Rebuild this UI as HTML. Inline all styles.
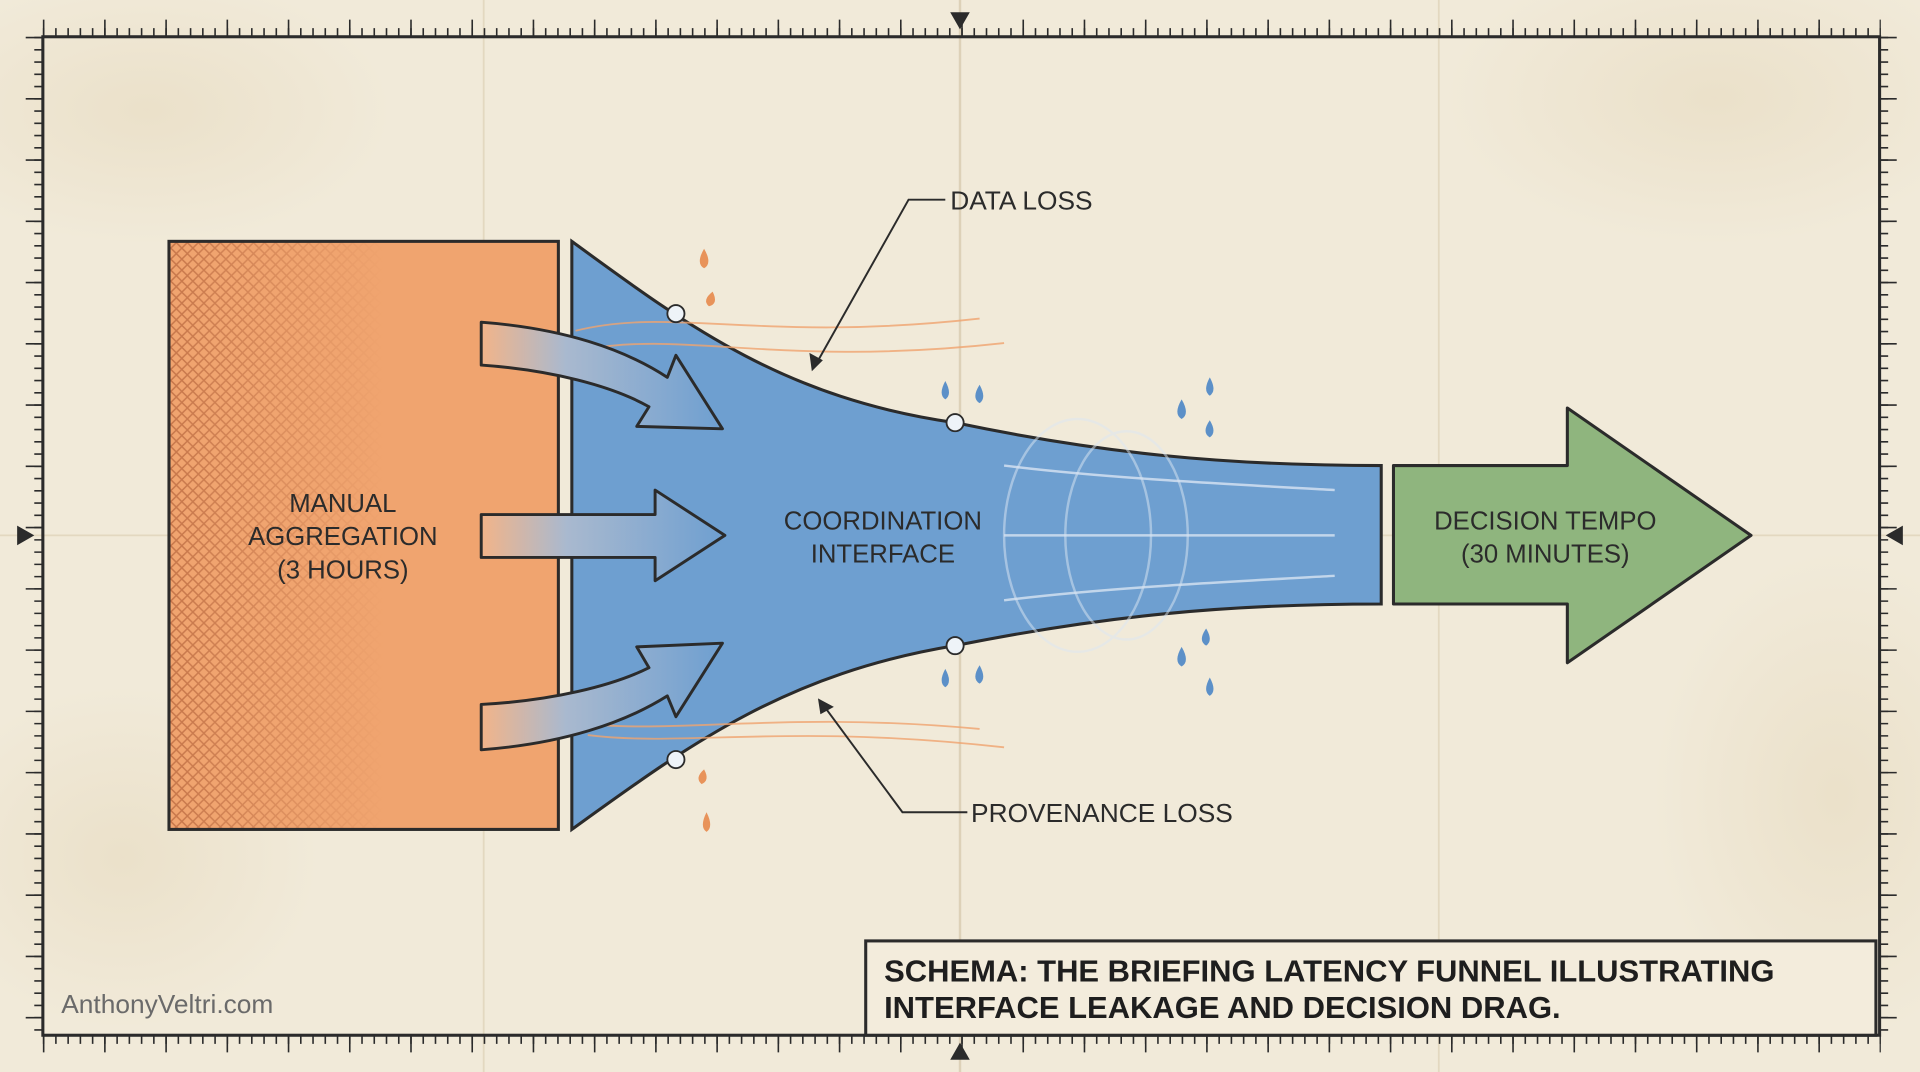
<!DOCTYPE html>
<html><head><meta charset="utf-8"><style>
html,body{margin:0;padding:0;width:1920px;height:1072px;overflow:hidden;background:#f1ead9}
svg{display:block}
text{font-family:"Liberation Sans",sans-serif}
</style></head><body>
<svg width="1920" height="1072" viewBox="0 0 1568 875" preserveAspectRatio="none" xmlns="http://www.w3.org/2000/svg">
<defs>
<pattern id="hatch" width="9" height="9" patternUnits="userSpaceOnUse">
<path d="M0 0L9 9M9 0L0 9" stroke="#b4623a" stroke-width="1.2" opacity="0.7"/>
</pattern>
<linearGradient id="hfade" x1="0" x2="1">
<stop offset="0" stop-color="#fff" stop-opacity="1"/><stop offset="0.55" stop-color="#fff" stop-opacity="0"/>
</linearGradient>
<linearGradient id="ag" x1="0" x2="1">
<stop offset="0" stop-color="#f2b489"/><stop offset="0.35" stop-color="#a9b9cf"/><stop offset="1" stop-color="#6e9fd0"/>
</linearGradient>
<mask id="hm"><rect x="138" y="197" width="318" height="480" fill="url(#hfade)"/></mask>
<radialGradient id="st" cx="0.5" cy="0.5" r="0.5"><stop offset="0" stop-color="#dfcfad" stop-opacity="0.35"/><stop offset="1" stop-color="#dfcfad" stop-opacity="0"/></radialGradient>
</defs>
<rect width="1568" height="875" fill="#f1ead9"/>
<ellipse cx="120" cy="90" rx="200" ry="110" fill="url(#st)"/>
<ellipse cx="1400" cy="80" rx="220" ry="120" fill="url(#st)"/>
<ellipse cx="100" cy="700" rx="160" ry="140" fill="url(#st)"/>
<ellipse cx="1500" cy="650" rx="150" ry="200" fill="url(#st)"/>
<line x1="784" y1="0" x2="784" y2="875" stroke="#ddd1b8" stroke-width="2"/>
<line x1="395" y1="0" x2="395" y2="875" stroke="#e3d8c0" stroke-width="1.5"/>
<line x1="1175" y1="0" x2="1175" y2="875" stroke="#e3d8c0" stroke-width="1.5"/>
<line x1="0" y1="437" x2="1568" y2="437" stroke="#e3d8c0" stroke-width="1.5"/>
<!-- frame -->
<rect x="35" y="30" width="1500" height="815" fill="none" stroke="#2b2b2b" stroke-width="2.5"/>
<g stroke="#2b2b2b" stroke-width="7" fill="none">
<line x1="35" y1="26.5" x2="1536" y2="26.5" stroke-dasharray="1.3 8.7"/>
<line x1="35" y1="848.5" x2="1536" y2="848.5" stroke-dasharray="1.3 8.7"/>
<line x1="31.5" y1="30" x2="31.5" y2="846" stroke-dasharray="1.3 8.7"/>
<line x1="1538.5" y1="30" x2="1538.5" y2="846" stroke-dasharray="1.3 8.7"/>
</g>
<g stroke="#2b2b2b" stroke-width="14" fill="none">
<line x1="35" y1="23" x2="1536" y2="23" stroke-dasharray="1.3 48.7"/>
<line x1="35" y1="852" x2="1536" y2="852" stroke-dasharray="1.3 48.7"/>
<line x1="28" y1="30" x2="28" y2="846" stroke-dasharray="1.3 48.7"/>
<line x1="1542" y1="30" x2="1542" y2="846" stroke-dasharray="1.3 48.7"/>
</g>
<path d="M776 10H792L784 24Z M776 865H792L784 851Z M14 429V445L28 437Z M1554 429V445L1540 437Z" fill="#2b2b2b"/>
<!-- orange box -->
<rect x="138" y="197" width="318" height="480" fill="#f0a46f"/>
<rect x="138" y="197" width="318" height="480" fill="url(#hatch)" mask="url(#hm)"/>
<rect x="138" y="197" width="318" height="480" fill="none" stroke="#2b2b2b" stroke-width="2.5"/>
<!-- funnel -->
<path d="M467 197 C560 265 640 325 780 345 C900 370 1000 380 1128 380 L1128 493 C1000 493 900 503 780 527 C640 550 560 610 467 677 Z" fill="#6e9fd0" stroke="#2b2b2b" stroke-width="2.5"/>
<g fill="none" stroke="#f0a46f" stroke-width="1.5" opacity="0.8">
<path d="M470 270 C550 250 620 280 800 260"/><path d="M480 285 C560 270 640 300 820 280"/>
<path d="M480 600 C560 610 640 590 820 610"/><path d="M470 590 C550 600 640 580 800 595"/>
</g>
<g fill="none" stroke="#dde8f3" stroke-width="2" opacity="0.5">
<ellipse cx="880" cy="437" rx="60" ry="95"/><ellipse cx="920" cy="437" rx="50" ry="85"/>
</g>
<g fill="#eef3f8" stroke="#2b2b2b" stroke-width="1.5">
<circle cx="552" cy="256" r="7"/><circle cx="780" cy="345" r="7"/><circle cx="780" cy="527" r="7"/><circle cx="552" cy="620" r="7"/>
</g>
<g fill="#e8935a"><path d="M575 203q-7 12 0 16q7-4 0-16z"/><path d="M582 238q-9 7-3 12q8-2 3-12z"/><path d="M575 628q-8 7-2 12q7-3 2-12z"/><path d="M577 663q-6 12 0 16q6-4 0-16z"/></g>
<g fill="#5c90c8"><path d="M772 311q-6 11 0 15q6-4 0-15z"/><path d="M800 314q-7 11 0 15q6-4 0-15z"/><path d="M965 326q-7 12 0 16q7-4 0-16z"/><path d="M988 308q-6 11 0 15q6-4 0-15z"/><path d="M988 343q-7 10 0 14q6-4 0-14z"/><path d="M772 546q-6 11 0 15q6-4 0-15z"/><path d="M800 543q-7 11 0 15q6-4 0-15z"/><path d="M965 528q-7 12 0 16q7-4 0-16z"/><path d="M988 553q-6 11 0 15q6-4 0-15z"/><path d="M985 513q-7 10 0 14q6-4 0-14z"/></g>
<g fill="none" stroke="#d8e4f2" stroke-width="2" opacity="0.8">
<path d="M820 380 C900 390 1000 395 1090 400"/><path d="M820 437 L1090 437"/><path d="M820 490 C900 480 1000 475 1090 470"/>
</g>
<!-- input arrows -->
<g fill="url(#ag)" stroke="#2b2b2b" stroke-width="2.4" stroke-linejoin="round">
<path d="M393 263 C460 268 510 285 545 308 L552 290 L590 350 L520 348 L530 332 C500 315 450 302 393 298 Z"/>
<path d="M393 420 H535 V400 L592 437 L535 474 V455 H393 Z"/>
<path d="M393 575 C450 572 500 560 530 545 L520 528 L590 525 L552 585 L545 568 C510 590 460 607 393 612 Z"/>
</g>
<!-- green arrow -->
<path d="M1138 380 H1280 V333 L1430 437 L1280 541 V493 H1138 Z" fill="#8fb57e" stroke="#2b2b2b" stroke-width="2.5" stroke-linejoin="round"/>
<!-- texts -->
<g font-size="21" fill="#2b2b2b" text-anchor="middle">
<text x="280" y="418">MANUAL</text><text x="280" y="445">AGGREGATION</text><text x="280" y="472">(3 HOURS)</text>
<text x="721" y="432">COORDINATION</text><text x="721" y="459">INTERFACE</text>
<text x="1262" y="432">DECISION TEMPO</text><text x="1262" y="459">(30 MINUTES)</text>
</g>
<g font-size="21.5" fill="#2b2b2b">
<text x="776" y="171">DATA LOSS</text>
<text x="793" y="671">PROVENANCE LOSS</text>
</g>
<g fill="none" stroke="#2b2b2b" stroke-width="1.6">
<path d="M772 163 H742 L666 298"/><path d="M790 663 H737 L672 575"/>
</g>
<path d="M663 303 L661 288 L672 294Z M668 570 L681 577 L670 583Z" fill="#2b2b2b"/>
<!-- caption -->
<rect x="707" y="768" width="825" height="77" fill="#f3ecdc" stroke="#2b2b2b" stroke-width="2.5"/>
<g font-size="25.3" font-weight="bold" fill="#1e1e1e">
<text x="722" y="801">SCHEMA: THE BRIEFING LATENCY FUNNEL ILLUSTRATING</text>
<text x="722" y="831">INTERFACE LEAKAGE AND DECISION DRAG.</text>
</g>
<text x="50" y="827" font-size="21.5" fill="#6a6a6a">AnthonyVeltri.com</text>
</svg>
</body></html>
